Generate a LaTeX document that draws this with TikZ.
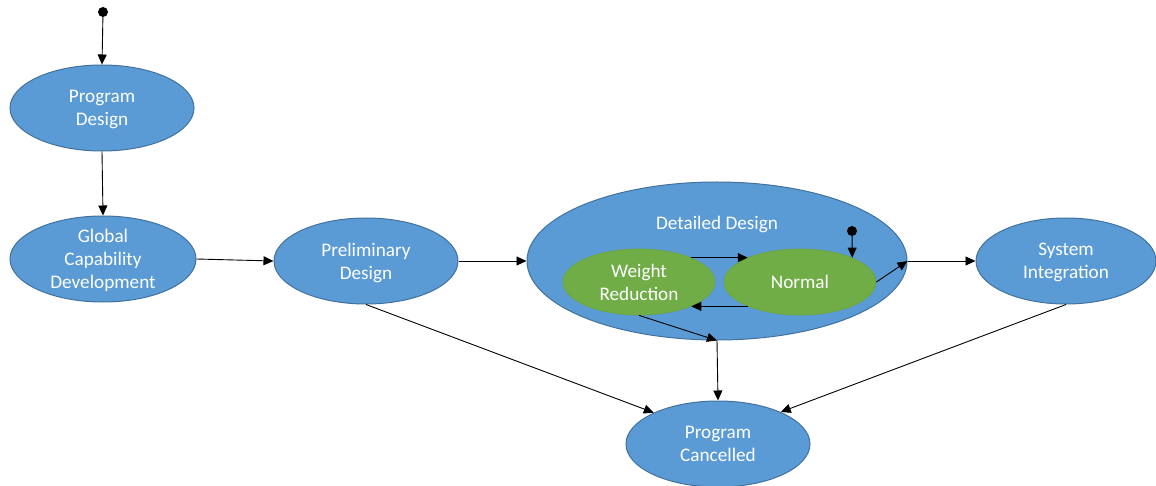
\documentclass[tikz,border=0pt]{standalone}
\usepackage{fontspec}
\setmainfont{Carlito}
\usetikzlibrary{shapes.geometric,arrows.meta}
\definecolor{bfill}{HTML}{5B9BD5}
\definecolor{bline}{HTML}{41719C}
\definecolor{gfill}{HTML}{70AD47}
\definecolor{gline}{HTML}{6AA443}
\tikzset{
  state/.style={ellipse, draw=bline, fill=bfill, line width=1pt, inner sep=0pt,
    text=white, align=center, font=\fontsize{19.2}{23}\selectfont, text depth=-1pt},
  sub/.style={ellipse, draw=gline, fill=gfill, line width=0.8pt, inner sep=0pt,
    text=white, align=center, font=\fontsize{19.2}{23}\selectfont, text depth=-1pt,
    minimum width=152pt, minimum height=66pt},
  big/.style={minimum width=184pt, minimum height=86pt},
  initdot/.style={circle, fill=black, inner sep=0pt, minimum size=10pt},
  conn/.style={draw=black, line width=0.9pt, -{Triangle[length=10pt,width=9pt]}},
}
\begin{document}
\begin{tikzpicture}[x=1pt,y=-1pt]
\useasboundingbox (0,0) rectangle (1156,486);
\clip (0,0) rectangle (1156,486);
% nodes
\node[initdot] (i0) at (103,12) {};
\node[state,big] (pd) at (102,108) {Program\\Design};
\node[state,big,minimum width=186pt] (gcd) at (103,259) {Global\\Capability\\Development};
\node[state,big] (pre) at (366,261) {Preliminary\\Design};
\node[state,minimum width=380pt,minimum height=158pt] (dd) at (717,261) {};
\node[text=white, font=\fontsize{19.2}{23}\selectfont] (ddl) at (717,224) {Detailed Design};
\node[sub] (wr) at (639,282) {Weight\\Reduction};
\node[sub] (nor) at (800,282) {Normal};
\node[initdot] (i1) at (852,231) {};
\node[state,minimum width=180pt,minimum height=86pt] (si) at (1066,261) {System\\Integration};
\node[state,big] (pc) at (718,444) {Program\\Cancelled};
% connectors
\draw[conn] (i0) -- (pd.north);
\draw[conn] (pd.south) -- (gcd.north);
\draw[conn] (gcd.east) -- (pre.west);
\draw[conn] (pre.east) -- (dd.west);
\draw[conn] (i1) -- (nor.25);
\draw[conn] (wr.25) -- (nor.155);
\draw[conn] (nor.205) -- (wr.335);
\draw[conn] (nor.east) -- (dd.east);
\draw[conn] (dd.east) -- (si.west);
\draw[conn] (wr.south) -- (dd.south);
\draw[conn] (dd.south) -- (pc.north);
\draw[conn] (pre.south) -- (pc.154);
\draw[conn] (si.south) -- (pc.27);
\end{tikzpicture}
\end{document}
